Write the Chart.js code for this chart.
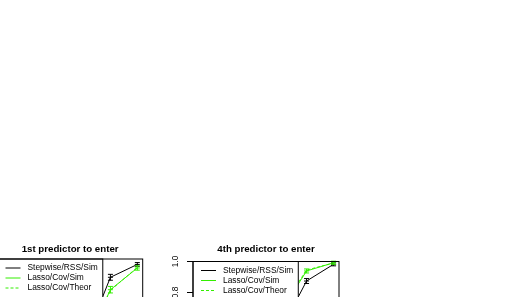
<!DOCTYPE html>
<html>
<head>
<meta charset="utf-8">
<script src="https://cdn.jsdelivr.net/npm/chart.js@4/dist/chart.umd.min.js"></script>
<style>
html, body { margin: 0; padding: 0; background: #fff; overflow: hidden; width: 511px; height: 297px; }
canvas { position: absolute; top: 0; }
</style>
</head>
<body>
<canvas id="panelFirst" width="220" height="440"></canvas>
<canvas id="panelFourth" width="220" height="440"></canvas>
<script>
const xValues = [1, 2, 3, 4, 5, 6];
const seriesLabels = ["Stepwise/RSS/Sim", "Lasso/Cov/Sim", "Lasso/Cov/Theor"];
const yTicks = [0.2, 0.4, 0.6, 0.8, 1.0];

// 1st predictor to enter
const firstStepwise = [0.06, 0.13, 0.26, 0.446, 0.882, 0.965];
const firstStepwiseErr = [0.02, 0.02, 0.02, 0.02, 0.019, 0.012];
const firstLassoSim = [0.05, 0.11, 0.24, 0.43, 0.802, 0.942];
const firstLassoSimErr = [0.02, 0.02, 0.02, 0.02, 0.021, 0.014];
const firstLassoTheor = [0.05, 0.12, 0.25, 0.44, 0.798, 0.946];

// 4th predictor to enter
const fourthStepwise = [0.12, 0.22, 0.36, 0.54, 0.874, 0.982];
const fourthStepwiseErr = [0.02, 0.02, 0.02, 0.02, 0.016, 0.01];
const fourthLassoSim = [0.15, 0.28, 0.45, 0.664, 0.939, 0.992];
const fourthLassoSimErr = [0.02, 0.02, 0.02, 0.02, 0.013, 0.01];
const fourthLassoTheor = [0.16, 0.29, 0.46, 0.68, 0.945, 0.99];

const green = "#33ee00";
const fontFamily = "'Liberation Sans', Arial, Helvetica, sans-serif";

// error bars, legend box, plot box and left axis, drawn R style
const rPanel = {
	id: "rPanel",
	afterDatasetsDraw(chart) {
		const ctx = chart.ctx;
		const area = chart.chartArea;
		const xs = chart.scales.x;
		const ys = chart.scales.y;
		const datasets = chart.data.datasets;
		ctx.save();
		ctx.lineWidth = 1;

		datasets.forEach((ds) => {
			if (!ds.errors) return;
			ctx.strokeStyle = ds.borderColor;
			ctx.setLineDash([]);
			ds.data.forEach((p, i) => {
				const px = xs.getPixelForValue(p.x);
				const lo = ys.getPixelForValue(p.y - ds.errors[i]);
				const hi = ys.getPixelForValue(p.y + ds.errors[i]);
				const mid = ys.getPixelForValue(p.y);
				ctx.beginPath();
				ctx.moveTo(px, lo);
				ctx.lineTo(px, hi);
				for (const y of [lo, mid, hi]) {
					ctx.moveTo(px - 2.5, y);
					ctx.lineTo(px + 2.5, y);
				}
				ctx.stroke();
			});
		});

		// legend
		ctx.font = "8.4px " + fontFamily;
		const textW = Math.max(...datasets.map((d) => ctx.measureText(d.label).width));
		const lx = area.left;
		const ly = area.top;
		const lw = 30 + textW + 5;
		ctx.fillStyle = "#fff";
		ctx.fillRect(lx, ly, lw, 40);
		ctx.strokeStyle = "#000";
		ctx.setLineDash([]);
		ctx.strokeRect(lx, ly, lw, 40);
		datasets.forEach((ds, i) => {
			const y = ly + 9 + i * 10;
			ctx.strokeStyle = ds.borderColor;
			ctx.setLineDash(ds.borderDash || []);
			ctx.beginPath();
			ctx.moveTo(lx + 8, y);
			ctx.lineTo(lx + 23, y);
			ctx.stroke();
			ctx.fillStyle = "#000";
			ctx.textBaseline = "middle";
			ctx.textAlign = "left";
			ctx.fillText(ds.label, lx + 30, y);
		});

		// box
		ctx.setLineDash([]);
		ctx.strokeStyle = "#000";
		ctx.strokeRect(area.left, area.top, area.width, area.height);

		// y axis ticks, labels rotated like R
		ctx.fillStyle = "#000";
		ctx.textAlign = "center";
		ctx.textBaseline = "middle";
		yTicks.forEach((t) => {
			const py = ys.getPixelForValue(t);
			ctx.beginPath();
			ctx.moveTo(area.left - 6, py);
			ctx.lineTo(area.left, py);
			ctx.stroke();
			ctx.save();
			ctx.translate(area.left - 17, py);
			ctx.rotate(-Math.PI / 2);
			ctx.fillText(t.toFixed(1), 0, 0);
			ctx.restore();
		});
		ctx.restore();
	},
};

function series(values) {
	return xValues.map((x, i) => ({ x, y: values[i] }));
}

function makePanel(id, canvasLeft, areaLeft, areaRight, areaTop, title, stepwise, stepwiseErr, lassoSim, lassoSimErr, lassoTheor) {
	const canvas = document.getElementById(id);
	canvas.style.left = canvasLeft + "px";
	const titleTop = 243.18;
	const lineH = 9.7 * 1.2;
	return new Chart(canvas, {
		type: "line",
		data: {
			datasets: [
				{ label: seriesLabels[0], data: series(stepwise), errors: stepwiseErr, borderColor: "#000", borderWidth: 1, pointRadius: 0 },
				{ label: seriesLabels[1], data: series(lassoSim), errors: lassoSimErr, borderColor: green, borderWidth: 1, pointRadius: 0 },
				{ label: seriesLabels[2], data: series(lassoTheor), borderColor: green, borderWidth: 1, borderDash: [3, 2], pointRadius: 0 },
			],
		},
		options: {
			responsive: false,
			animation: false,
			layout: {
				padding: {
					left: areaLeft - canvasLeft,
					right: canvas.width - (areaRight - canvasLeft),
					top: 0,
					bottom: canvas.height - (areaTop + 155),
				},
			},
			scales: {
				x: { type: "linear", min: 0.8, max: 6.2, display: false },
				y: { type: "linear", min: 0, max: 1, display: false },
			},
			plugins: {
				legend: { display: false },
				tooltip: { enabled: false },
				title: {
					display: true,
					text: title,
					color: "#000",
					font: { family: fontFamily, size: 9.7, weight: "bold" },
					padding: { top: titleTop, bottom: areaTop - titleTop - lineH },
				},
			},
		},
		plugins: [rPanel],
	});
}

makePanel("panelFirst", -40, -2.5, 142.7, 259, "1st predictor to enter",
	firstStepwise, firstStepwiseErr, firstLassoSim, firstLassoSimErr, firstLassoTheor);
makePanel("panelFourth", 150, 193, 339, 261.5, "4th predictor to enter",
	fourthStepwise, fourthStepwiseErr, fourthLassoSim, fourthLassoSimErr, fourthLassoTheor);
</script>
</body>
</html>
